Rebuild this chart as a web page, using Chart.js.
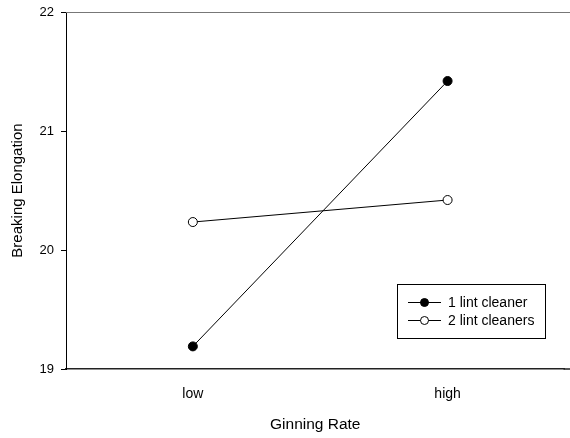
<!DOCTYPE html>
<html><head><meta charset="utf-8">
<script src="https://cdn.jsdelivr.net/npm/chart.js@4"></script>
<style>html,body{margin:0;padding:0;background:#fff}#wrap{width:570px;height:438px}</style>
</head><body><div id="wrap"><canvas id="c" width="570" height="438"></canvas></div>
<script>
const categories = ["low", "high"];
const seriesNames = ["1 lint cleaner", "2 lint cleaners"];
const oneCleaner = [19.19, 21.42];
const twoCleaners = [20.235, 20.42];
const yTicks = [19, 20, 21, 22];

const FONT = "'Liberation Sans', Arial, sans-serif";

const legendPlugin = {
  id: 'boxLegend',
  afterDraw(chart) {
    const ctx = chart.ctx;
    const ca = chart.chartArea;
    ctx.save();
    ctx.strokeStyle = '#777';
    ctx.lineWidth = 1;
    ctx.beginPath(); ctx.moveTo(ca.left, ca.top + 0.5); ctx.lineTo(570, ca.top + 0.5); ctx.stroke();
    ctx.strokeStyle = '#222';
    ctx.lineWidth = 1.5;
    ctx.beginPath(); ctx.moveTo(ca.right - 1, ca.bottom); ctx.lineTo(570, ca.bottom); ctx.stroke();
    const bx = 397.5, by = 284.5, bw = 148, bh = 54;
    ctx.lineWidth = 1;
    ctx.fillStyle = '#fff';
    ctx.fillRect(bx, by, bw, bh);
    ctx.strokeStyle = '#000';
    ctx.strokeRect(bx, by, bw, bh);
    ctx.font = "14px " + FONT;
    ctx.textBaseline = 'middle';
    chart.data.datasets.forEach((ds, i) => {
      const y = 302 + i * 18;
      ctx.strokeStyle = '#000';
      ctx.lineWidth = 1;
      ctx.beginPath(); ctx.moveTo(408, y + 0.5); ctx.lineTo(441, y + 0.5); ctx.stroke();
      ctx.beginPath(); ctx.arc(424.5, y + 0.5, 4, 0, Math.PI * 2);
      ctx.fillStyle = ds.pointBackgroundColor; ctx.fill(); ctx.stroke();
      ctx.fillStyle = '#000';
      ctx.fillText(ds.label, 448, y + 1);
    });
    ctx.restore();
  }
};

new Chart(document.getElementById('c'), {
  type: 'line',
  data: {
    datasets: [
      { label: seriesNames[0], data: oneCleaner.map((v, i) => ({x: i, y: v})),
        borderColor: '#000', borderWidth: 1, pointRadius: 4.5, pointBackgroundColor: '#000', pointBorderColor: '#000', pointBorderWidth: 1 },
      { label: seriesNames[1], data: twoCleaners.map((v, i) => ({x: i, y: v})),
        borderColor: '#000', borderWidth: 1, pointRadius: 4.5, pointBackgroundColor: '#fff', pointBorderColor: '#000', pointBorderWidth: 1 }
    ]
  },
  options: {
    responsive: false,
    animation: false,
    layout: { padding: { top: 12, right: 0, left: 0, bottom: 0 } },
    plugins: { legend: { display: false }, tooltip: { enabled: false } },
    scales: {
      x: {
        type: 'linear', min: -0.498, max: 1.459,
        afterFit(s) { s.height = 69; s.paddingLeft = 0; s.paddingRight = 0; },
        afterBuildTicks(s) { s.ticks = categories.map((c, i) => ({value: i})); },
        ticks: { callback: (v) => categories[v] ?? '', color: '#000', font: { family: FONT, size: 14 }, padding: 9, maxRotation: 0 },
        grid: { display: false },
        border: { display: true, color: '#222', width: 1.5 },
        title: { display: true, text: 'Ginning Rate', color: '#000', font: { family: FONT, size: 15.5 }, padding: { top: 10 } }
      },
      y: {
        min: 19, max: 22,
        afterFit(s) { s.width = 66; s.paddingTop = 0; s.paddingBottom = 0; },
        afterBuildTicks(s) { s.ticks = yTicks.map(v => ({value: v})); },
        ticks: { color: '#000', font: { family: FONT, size: 13 }, padding: 7 },
        grid: { drawOnChartArea: false, tickLength: 5, color: '#000' },
        border: { display: true, color: '#000', width: 1 },
        title: { display: true, text: 'Breaking Elongation', color: '#000', font: { family: FONT, size: 15 }, padding: { top: 9, bottom: 4 } }
      }
    }
  },
  plugins: [legendPlugin]
});
</script></body></html>
